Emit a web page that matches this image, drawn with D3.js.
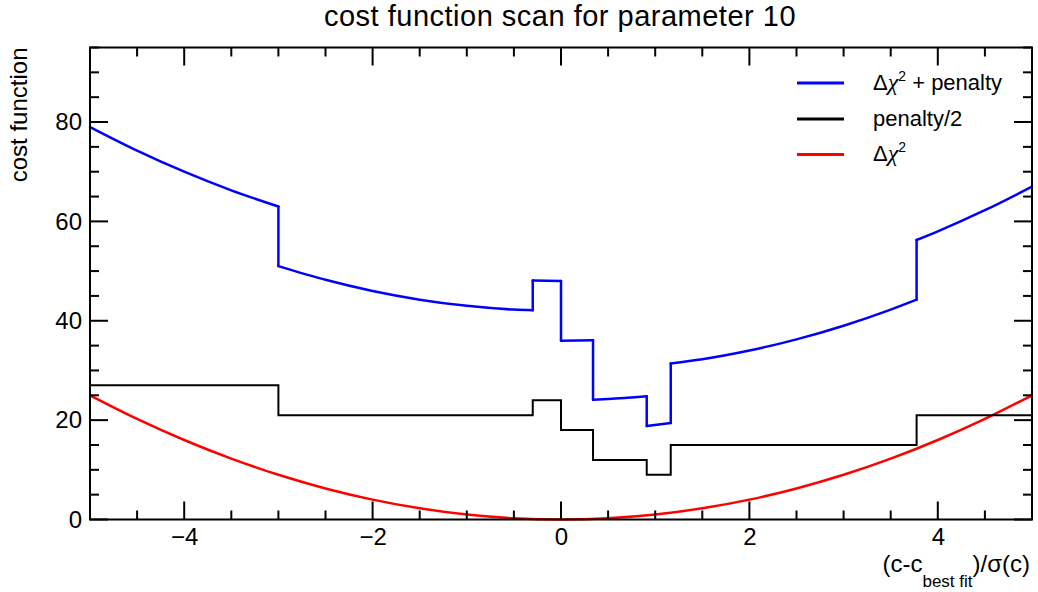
<!DOCTYPE html>
<html>
<head>
<meta charset="utf-8">
<script src="https://cdn.jsdelivr.net/npm/d3@7.9.0/dist/d3.min.js"></script>
<style>
  body { margin: 0; background: #fff; }
  svg { display: block; font-family: "Liberation Sans", Arial, Helvetica, sans-serif; }
</style>
</head>
<body>
<svg id="chart" width="1038" height="592"></svg>
<script>
// values
const xTicks = [-4, -2, 0, 2, 4];
const yTicks = [0, 20, 40, 60, 80];

// delta chi^2 (red)
const chiX = [-5, -4.5, -4, -3.5, -3, -2.5, -2, -1.5, -1, -0.5, 0, 0.5, 1, 1.5, 2, 2.5, 3, 3.5, 4, 4.5, 5];
const chiY = [25, 20.25, 16, 12.25, 9, 6.25, 4, 2.25, 1, 0.25, 0, 0.25, 1, 2.25, 4, 6.25, 9, 12.25, 16, 20.25, 25];

// penalty/2 (black steps)
const stepEdges = [-5, -3.0, -0.3, 0.0, 0.34, 0.91, 1.165, 3.775, 5];
const penaltyHalf = [27, 21, 24, 18, 12, 9, 15, 21];

// delta chi^2 + penalty (blue), jumps drawn as repeated x
const totalX = [-5, -4.5, -4, -3.5, -3, -3, -2.5, -2, -1.5, -1, -0.5, -0.3, -0.3, 0, 0, 0.34, 0.34, 0.5, 0.91, 0.91, 1.165, 1.165, 1.5, 2, 2.5, 3, 3.5, 3.775, 3.775, 4, 4.5, 5];
const totalY = [79, 74.25, 70, 66.25, 63, 51, 48.25, 46, 44.25, 43, 42.25, 42.1, 48.1, 48, 36, 36.1, 24.1, 24.25, 24.8, 18.8, 19.4, 31.4, 32.25, 34, 36.25, 39, 42.25, 44.25, 56.25, 58, 62.25, 67];

const legendLabels = ["Δ", "penalty/2", "Δ"];

const pLeft = 90, pRight = 1032, pTop = 47.5, pBottom = 519.5;

const svg = d3.select("#chart");

const x = d3.scaleLinear().domain([-5, 5]).range([pLeft, pRight]);
const y = d3.scaleLinear().domain([0, 95]).range([pBottom, pTop]);

// title
svg.append("text")
  .attr("x", 560).attr("y", 26)
  .attr("text-anchor", "middle")
  .attr("font-size", 29)
  .attr("letter-spacing", 0.5)
  .text("cost function scan for parameter 10");

const smooth = d3.line().curve(d3.curveMonotoneX).x(d => x(d[0])).y(d => y(d[1]));
const straight = d3.line().x(d => x(d[0])).y(d => y(d[1]));

// curves
const plot = svg.append("g").attr("fill", "none");
plot.append("path")
  .attr("d", smooth(d3.zip(chiX, chiY)))
  .attr("stroke", "#ff0000").attr("stroke-width", 2.5);

let stepPts = stepEdges.map((e, i) => [e, penaltyHalf[Math.min(i, penaltyHalf.length - 1)]]);
plot.append("path")
  .attr("d", d3.line().curve(d3.curveStepAfter).x(d => x(d[0])).y(d => y(d[1]))(stepPts))
  .attr("stroke", "#000").attr("stroke-width", 2);

// split the blue series into smooth runs at the jumps
const totalPts = d3.zip(totalX, totalY);
const runs = [[totalPts[0]]];
for (let i = 1; i < totalPts.length; i++) {
  if (totalPts[i][0] === totalPts[i - 1][0]) runs.push([]);
  runs[runs.length - 1].push(totalPts[i]);
}
const blue = plot.append("g").attr("stroke", "#0000ff").attr("stroke-width", 2.5)
  .attr("stroke-linejoin", "round").attr("stroke-linecap", "round");
runs.forEach((r, i) => {
  blue.append("path").attr("d", smooth(r));
  if (i > 0) {
    const a = runs[i - 1][runs[i - 1].length - 1];
    blue.append("path").attr("d", straight([a, r[0]]));
  }
});

// frame
svg.append("rect")
  .attr("x", pLeft).attr("y", pTop)
  .attr("width", pRight - pLeft).attr("height", pBottom - pTop)
  .attr("fill", "none").attr("stroke", "#000").attr("stroke-width", 2);

// ticks on all four sides, inward
const ticks = svg.append("g").attr("stroke", "#000").attr("stroke-width", 2);
const xMinor = d3.range(-5, 5.001, 0.5);
const yMinor = d3.range(0, 95.001, 5);
xMinor.forEach(v => {
  const len = (Math.abs(v % 2) < 1e-6) ? 18 : 9;
  ticks.append("line").attr("x1", x(v)).attr("x2", x(v)).attr("y1", pBottom).attr("y2", pBottom - len);
  ticks.append("line").attr("x1", x(v)).attr("x2", x(v)).attr("y1", pTop).attr("y2", pTop + len);
});
yMinor.forEach(v => {
  const len = (v % 20 === 0) ? 18 : 9;
  ticks.append("line").attr("x1", pLeft).attr("x2", pLeft + len).attr("y1", y(v)).attr("y2", y(v));
  ticks.append("line").attr("x1", pRight).attr("x2", pRight - len).attr("y1", y(v)).attr("y2", y(v));
});

// tick labels through d3 axes
const xAxis = svg.append("g")
  .attr("transform", `translate(0,${pBottom})`)
  .call(d3.axisBottom(x).tickValues(xTicks).tickSize(0).tickPadding(8.5)
    .tickFormat(d => d < 0 ? "\u2212" + Math.abs(d) : d));
const yAxis = svg.append("g")
  .attr("transform", `translate(${pLeft},0)`)
  .call(d3.axisLeft(y).tickValues(yTicks).tickSize(0).tickPadding(8));
[xAxis, yAxis].forEach(g => {
  g.select(".domain").remove();
  g.attr("font-family", null).attr("font-size", null);
  g.selectAll("text").attr("font-size", 24).attr("fill", "#000");
});

// axis titles
svg.append("text")
  .attr("transform", `translate(27,${pTop}) rotate(-90)`)
  .attr("text-anchor", "end")
  .attr("font-size", 24)
  .text("cost function");

const xt = svg.append("text")
  .attr("x", 1030).attr("y", 572)
  .attr("text-anchor", "end")
  .attr("font-size", 24);
xt.append("tspan").text("(c-c");
xt.append("tspan").attr("font-size", 17).attr("dy", 15).text("best fit");
xt.append("tspan").attr("dy", -15).text(")/σ(c)");

// legend
const legColors = ["#0000ff", "#000000", "#ff0000"];
const legY = [83, 119, 154.5];
legendLabels.forEach((lab, i) => {
  svg.append("line")
    .attr("x1", 797).attr("x2", 844)
    .attr("y1", legY[i]).attr("y2", legY[i])
    .attr("stroke", legColors[i]).attr("stroke-width", 3);
  const t = svg.append("text")
    .attr("x", 873).attr("y", legY[i] + 6.5)
    .attr("font-size", 22);
  t.append("tspan").text(lab);
  if (i !== 1) {
    t.append("tspan").attr("font-family", "Liberation Serif").attr("font-style", "italic")
      .attr("font-size", 24).text("χ");
    t.append("tspan").attr("font-size", 14).attr("dy", -9).text("2");
    if (i === 0) t.append("tspan").attr("dy", 9).text(" + penalty");
  }
});
</script>
</body>
</html>
